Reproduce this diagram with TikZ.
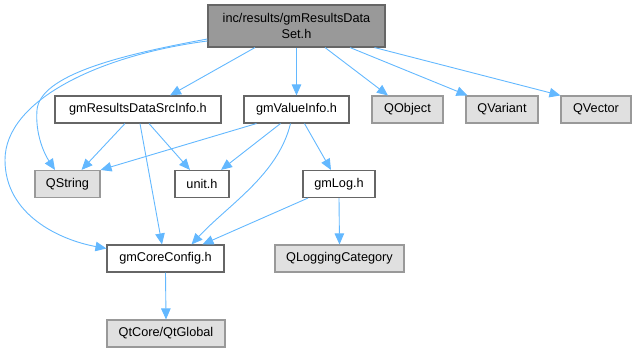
\documentclass[tikz,border=0pt]{standalone}
\usepackage{fontspec}
\setmainfont{Liberation Sans}
\usepackage{xcolor}
\usetikzlibrary{arrows.meta, positioning}

\definecolor{edgeblue}{HTML}{63B8FF}
\definecolor{boxline}{HTML}{666666}
\definecolor{extline}{HTML}{999999}
\definecolor{extfill}{HTML}{E0E0E0}
\definecolor{rootfill}{HTML}{999999}

\begin{document}
\begin{tikzpicture}[x=1pt, y=-1pt,
  box/.style={draw=boxline, line width=1.1pt, minimum height=27pt, inner sep=0pt, align=center, font=\fontsize{12.7}{16}\selectfont},
  file/.style={box, fill=white},
  ext/.style={box, draw=extline, fill=extfill},
  top/.style={box, fill=rootfill, minimum height=42pt},
  arr/.style={-{Triangle[length=11pt, width=9.5pt]}, draw=edgeblue, line width=0.9pt},
]
\useasboundingbox (0,0) rectangle (635,352);

% header itself
\node[top, minimum width=177pt] (root) at (296.5,26) {inc/results/gmResultsData\\Set.h};

% first level
\node[file, minimum width=166pt] (srcinfo) at (138,109.5) {gmResultsDataSrcInfo.h};
\node[file, minimum width=105pt] (valinfo) at (296.5,109.5) {gmValueInfo.h};
\node[ext, minimum width=71pt] (qobject) at (407.5,109.5) {QObject};
\node[ext, minimum width=72pt] (qvariant) at (502,109.5) {QVariant};
\node[ext, minimum width=70pt] (qvector) at (596,109.5) {QVector};

% second level
\node[ext, minimum width=65pt] (qstring) at (67.5,184) {QString};
\node[file, minimum width=54pt] (unit) at (202,184) {unit.h};
\node[file, minimum width=72pt] (gmlog) at (339,184) {gmLog.h};

% third level
\node[file, minimum width=117pt] (coreconfig) at (165.5,258.5) {gmCoreConfig.h};
\node[ext, minimum width=129pt] (qlogcat) at (339.5,258.5) {QLoggingCategory};

% bottom
\node[ext, minimum width=118pt] (qtglobal) at (166,333.5) {QtCore/QtGlobal};

% includes of the header
\draw[arr] ([xshift=-41.5pt]root.south) -- ([xshift=32pt]srcinfo.north);
\draw[arr] (root.south) -- (valinfo.north);
\draw[arr] ([xshift=28.5pt]root.south) -- ([xshift=-19.5pt]qobject.north);
\draw[arr] ([xshift=53.5pt]root.south) -- ([xshift=2pt]qvariant.north west);
\draw[arr] ([xshift=78pt]root.south) -- (qvector.north west);
\draw[arr] ([yshift=-13pt]root.west) .. controls (120,55) and (40,75) .. (37,110)
  .. controls (35,135) and (45,155) .. ([xshift=-12.5pt]qstring.north);
\draw[arr] ([yshift=-15pt]root.west) .. controls (100,55) and (5,100) .. (5,160)
  .. controls (5,215) and (60,240) .. ([yshift=10pt]coreconfig.west);

% gmResultsDataSrcInfo.h
\draw[arr] ([xshift=-13pt]srcinfo.south) -- ([xshift=14pt]qstring.north);
\draw[arr] ([xshift=11pt]srcinfo.south) -- ([xshift=-12pt]unit.north);
\draw[arr] ([xshift=2pt]srcinfo.south) -- ([xshift=-3.5pt]coreconfig.north);

% gmValueInfo.h
\draw[arr] ([xshift=-40pt]valinfo.south) -- (qstring.north east);
\draw[arr] ([xshift=-16pt]valinfo.south) -- ([xshift=19pt]unit.north);
\draw[arr] ([xshift=-6pt]valinfo.south) .. controls (278,175) and (228,205) .. ([xshift=26pt]coreconfig.north);
\draw[arr] ([xshift=8pt]valinfo.south) -- ([xshift=-8pt]gmlog.north);

% gmLog.h
\draw[arr] ([xshift=-31pt]gmlog.south) -- ([xshift=37pt]coreconfig.north);
\draw[arr] (gmlog.south) -- (qlogcat.north);

% gmCoreConfig.h
\draw[arr] (coreconfig.south) -- (qtglobal.north);

\end{tikzpicture}
\end{document}
